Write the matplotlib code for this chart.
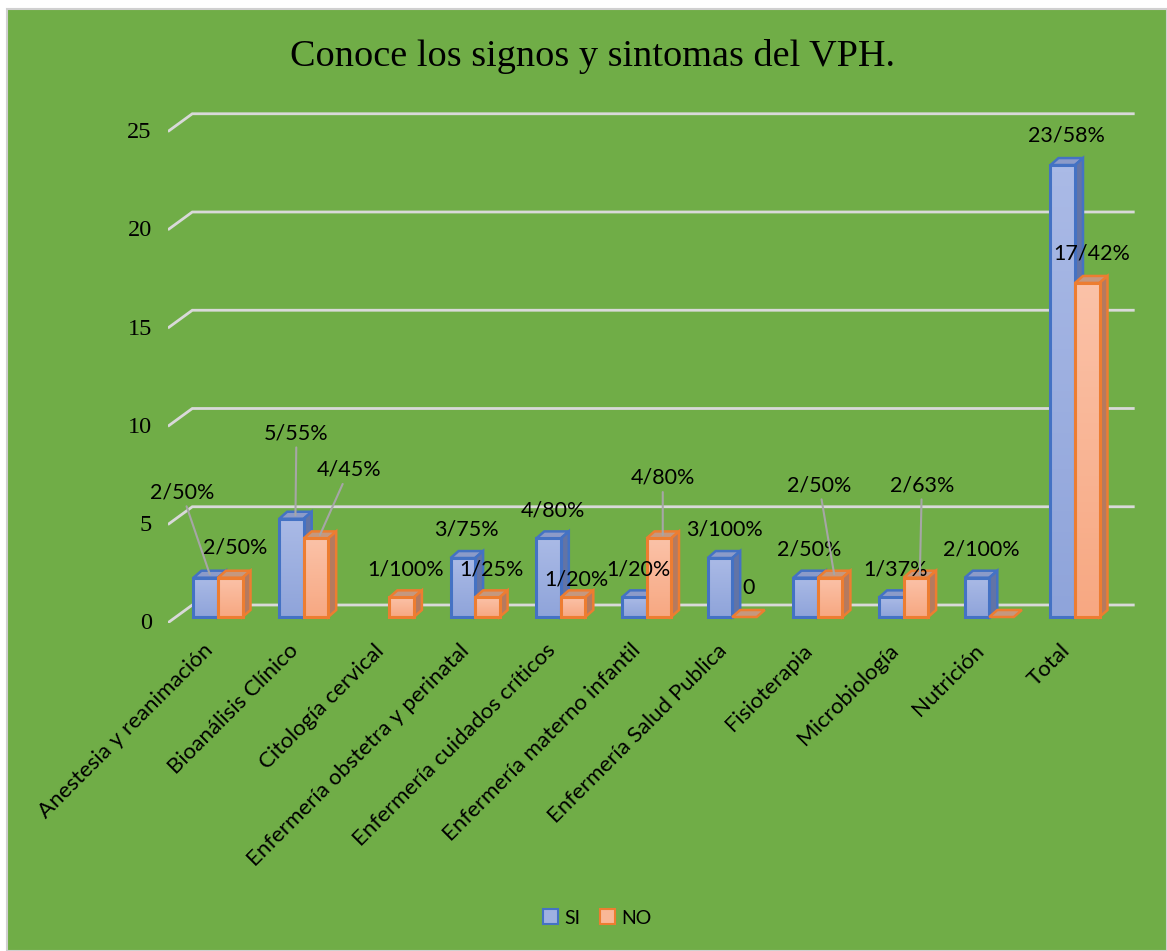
import numpy as np
import matplotlib.pyplot as plt
from matplotlib.patches import Polygon, Rectangle
from matplotlib.colors import LinearSegmentedColormap

# /=========================================================================
# data

categories = ["Anestesia y reanimación", "Bioanálisis Clínico", "Citología cervical",
              "Enfermería obstetra y perinatal", "Enfermería cuidados críticos",
              "Enfermería materno infantil", "Enfermería Salud Publica",
              "Fisioterapia", "Microbiología", "Nutrición", "Total"]
si_vals = [2, 5, np.nan, 3, 4, 1, 3, 2, 1, 2, 23]
no_vals = [2, 4, 1, 1, 1, 4, 0, 2, 2, 0, 17]
si_labels = ["2/50%", "5/55%", "", "3/75%", "4/80%", "1/20%", "3/100%",
             "2/50%", "1/37%", "2/100%", "23/58%"]
no_labels = ["2/50%", "4/45%", "1/100%", "1/25%", "1/20%", "4/80%", "0",
             "2/50%", "2/63%", "", "17/42%"]
yticks = [0, 5, 10, 15, 20, 25]

# label offsets in pixels (dx, dy) from bar top, and whether a leader line is drawn
si_off = [(-28, 82, True), (1, 82, True), None, (0, 25, False), (0, 24, False),
          (0, 24, False), (1, 25, False), (0, 25, False), (0, 24, False),
          (0, 25, False), (0, 26, False)]
no_off = [(1, 27, False), (29, 65, True), (0, 24, False), (0, 24, False),
          (-1, 14, False), (0, 57, True), (0, 26, False), (-15, 89, True),
          (2, 89, True), None, (0, 26, False)]
# =========================================================================/

W, H = 1167, 951
GREEN = "#70AD47"
GRID = "#D9D9D9"

fig = plt.figure(figsize=(W / 100, H / 100), dpi=100)
fig.patch.set_facecolor("white")
fig.patches.append(Rectangle((7 / W, 0), 1 - 7 / W, 1 - 9 / H, transform=fig.transFigure,
                             facecolor=GREEN, edgecolor="#D0D0D0", lw=1.5, zorder=-10))

# axes placed so that x = category index, y = value (front plane of bars)
px_cat = 85.7
px_unit = 19.65
x0_px, base_px = 218, 617
xlim = (-0.58, 10.72)
ylim = (-0.3, 26.0)
left = (x0_px + xlim[0] * px_cat) / W
right = (x0_px + xlim[1] * px_cat) / W
bottom = 1 - (base_px - ylim[0] * px_unit) / H
top = 1 - (base_px - ylim[1] * px_unit) / H
ax = fig.add_axes([left, bottom, right - left, top - bottom])
ax.set_facecolor("none")
for s in ax.spines.values():
    s.set_visible(False)
ax.set_xticks([])
ax.set_yticks([])

# back wall gridlines with floor diagonals
back_dy = 12 / px_unit
front_dy = -5 / px_unit
xa, xb, xe = -0.572, -0.30, 10.68
for v in yticks:
    ax.plot([xa, xb, xe], [v + front_dy, v + back_dy, v + back_dy], color=GRID, lw=2,
            solid_joinstyle="miter", zorder=1)
    ax.text(xa - 0.2, v + front_dy - 0.1, str(v), ha="right", va="center",
            fontsize=17.5, family="Liberation Serif")

bw = 0.286
ddx = 8 / px_cat
ddy = 7 / px_unit

styles = {
    "SI": dict(edge="#4472C4", top="#8C9BC9", side="#6274A6", grad=["#8FA4DA", "#AABAE6"]),
    "NO": dict(edge="#ED7D31", top="#C5987F", side="#B57A5F", grad=["#F7A882", "#FBC2A8"]),
}


def bar3d(x, v, st, z):
    if np.isnan(v):
        return
    e = st["edge"]
    # top face
    ax.add_patch(Polygon([(x, v), (x + bw, v), (x + bw + ddx, v + ddy), (x + ddx, v + ddy)],
                         closed=True, facecolor=st["top"], edgecolor=e, lw=1.8, zorder=z))
    if v <= 0:
        return
    # side face
    ax.add_patch(Polygon([(x + bw, 0), (x + bw + ddx, ddy), (x + bw + ddx, v + ddy), (x + bw, v)],
                         closed=True, facecolor=st["side"], edgecolor=e, lw=1.8, zorder=z))
    # front face with gradient
    cmap = LinearSegmentedColormap.from_list("g", st["grad"])
    im = ax.imshow(np.linspace(0, 1, 64).reshape(-1, 1), extent=[x, x + bw, 0, v], origin="lower",
                   aspect="auto", cmap=cmap, zorder=z + 0.1)
    rect = Rectangle((x, 0), bw, v, facecolor="none", edgecolor=e, lw=2.2, zorder=z + 0.2)
    ax.add_patch(rect)
    im.set_clip_path(rect)


for i in range(len(categories)):
    bar3d(i - bw, si_vals[i], styles["SI"], 3 + i)
    bar3d(i, no_vals[i], styles["NO"], 3.5 + i)

# data labels
for i in range(len(categories)):
    for vals, labs, offs, xs in ((si_vals, si_labels, si_off, i - bw / 2),
                                 (no_vals, no_labels, no_off, i + bw / 2)):
        if offs[i] is None or labs[i] == "":
            continue
        dx, dy, lead = offs[i]
        ap = dict(arrowstyle="-", color="#A6A6A6", lw=1.5, shrinkA=1, shrinkB=0) if lead else None
        ax.annotate(labs[i], xy=(xs + ddx / 2, vals[i] + ddy / 2), xytext=(dx, dy),
                    textcoords="offset pixels", ha="center", va="center",
                    fontsize=15.5, family="Lato", arrowprops=ap, zorder=30)

# category labels
for i, c in enumerate(categories):
    ax.text(i - 0.1, -1.55, c, rotation=45, ha="right", va="center", rotation_mode="anchor",
            fontsize=16, family="Lato")

ax.set_xlim(*xlim)
ax.set_ylim(*ylim)

fig.text(592 / W, 1 - 56 / H, "Conoce los signos y sintomas del VPH.", ha="center", va="center",
         fontsize=27.5, family="Liberation Serif")

# legend
h_si = Rectangle((0, 0), 1, 1, facecolor="#9FB1E1", edgecolor="#4472C4", lw=1.5)
h_no = Rectangle((0, 0), 1, 1, facecolor="#F9B797", edgecolor="#ED7D31", lw=1.5)
fig.legend([h_si, h_no], ["SI", "NO"], loc="center", bbox_to_anchor=(597 / W, 1 - 918 / H),
           ncol=2, frameon=False, prop=dict(family="Lato", size=14), handlelength=0.8,
           handleheight=0.8, handletextpad=0.3, columnspacing=1.0)

fig.savefig("out.png", dpi=100)
